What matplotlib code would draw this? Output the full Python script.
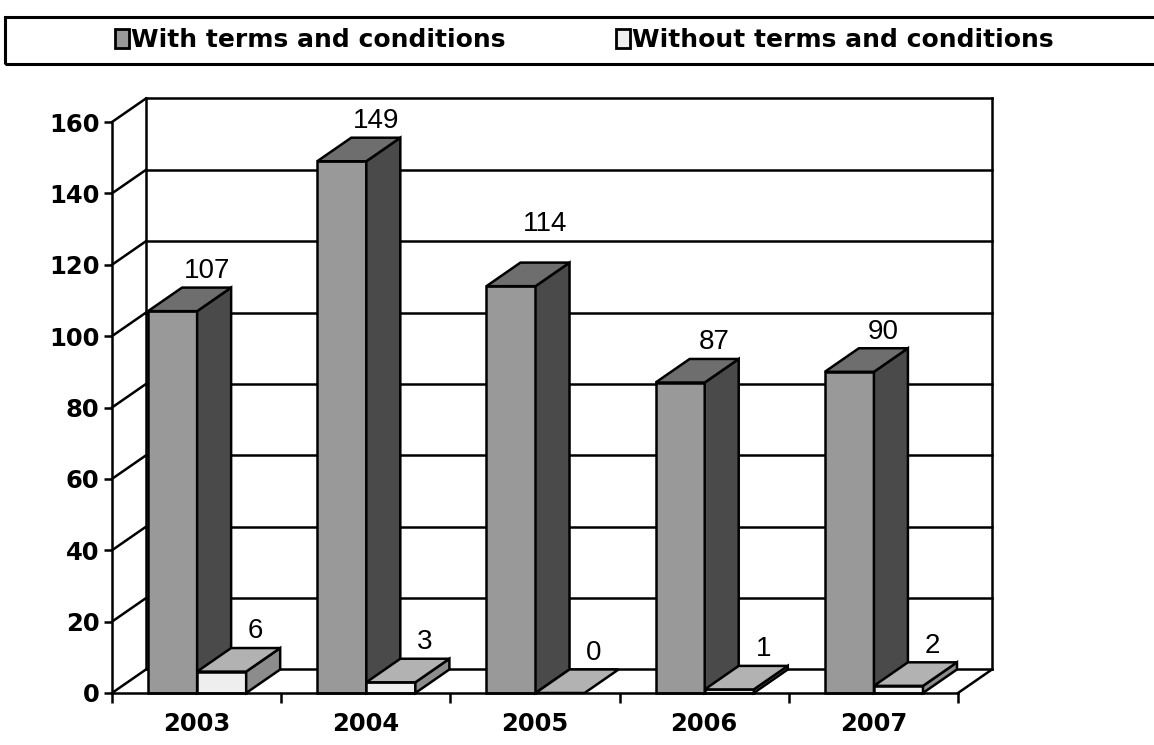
import matplotlib
matplotlib.use('Agg')
import matplotlib.pyplot as plt
from matplotlib.patches import Rectangle, Polygon, Patch

plt.rcParams['font.family'] = ['Liberation Sans', 'DejaVu Sans']

# Data
years = ['2003', '2004', '2005', '2006', '2007']
with_terms = [107, 149, 114, 87, 90]
without_terms = [6, 3, 0, 1, 2]
series_names = ['With terms and conditions', 'Without terms and conditions']

# Colours (front, top, side) for each series
col_with = ('#999999', '#6e6e6e', '#4a4a4a')
col_without = ('#eeeeee', '#b2b2b2', '#8c8c8c')

W, H = 1154, 745
DX = 0.201   # depth offset in category units
DY = 6.6     # depth offset in value units
BAR_W = 0.29
BAR_OFF = 0.213
LW = 1.8
bold_font = {'family': 'DejaVu Sans', 'weight': 'bold', 'size': 17.5}

fig = plt.figure(figsize=(W / 100, H / 100), dpi=100)
ax = fig.add_axes([112 / W, (H - 693) / H, (958 - 112) / W, (693 - 122) / H])
ax.set_xlim(0, 5)
ax.set_ylim(0, 160)


def bar3d(ax, x, h, cols):
    front, top, side = cols
    kw = dict(edgecolor='black', linewidth=LW, joinstyle='miter', clip_on=False, zorder=3)
    if h > 0:
        ax.add_patch(Rectangle((x, 0), BAR_W, h, facecolor=front, **kw))
        ax.add_patch(Polygon([(x + BAR_W, 0), (x + BAR_W + DX, DY),
                              (x + BAR_W + DX, h + DY), (x + BAR_W, h)],
                             closed=True, facecolor=side, **kw))
    ax.add_patch(Polygon([(x, h), (x + BAR_W, h), (x + BAR_W + DX, h + DY),
                          (x + DX, h + DY)], closed=True, facecolor=top, **kw))


# Back wall, side wall and floor
line_kw = dict(color='black', linewidth=LW, clip_on=False, zorder=1,
               solid_capstyle='projecting')
yticks = list(range(0, 161, 20))
for v in yticks:
    ax.plot([DX, 5 + DX], [v + DY, v + DY], **line_kw)
    ax.plot([0, DX], [v, v + DY], **line_kw)
ax.plot([DX, DX], [DY, 160 + DY], **line_kw)
ax.plot([5 + DX, 5 + DX], [DY, 160 + DY], **line_kw)
ax.plot([5, 5 + DX], [0, DY], **line_kw)

# Bars and value labels
label_nudge = {'2005': 16}
for i, yr in enumerate(years):
    for j, (vals, cols) in enumerate([(with_terms, col_with), (without_terms, col_without)]):
        x = i + BAR_OFF + j * BAR_W
        h = vals[i]
        bar3d(ax, x, h, cols)
        extra = label_nudge.get(yr, 0) if j == 0 else 0
        ax.annotate(str(h), (x + BAR_W / 2 + DX, h + DY), xytext=(0, 12 + extra),
                    textcoords='offset points', ha='center', va='center',
                    fontsize=20, annotation_clip=False, zorder=4)

# Axes styling
for s in ['top', 'right']:
    ax.spines[s].set_visible(False)
for s in ['left', 'bottom']:
    ax.spines[s].set_linewidth(LW)
    ax.spines[s].set_zorder(5)
ax.patch.set_visible(False)

ax.set_yticks(yticks)
ax.set_yticklabels([str(v) for v in yticks], fontdict=bold_font)
ax.tick_params(axis='y', length=6, width=LW, pad=3)
ax.set_xticks(range(6))
ax.set_xticklabels([])
ax.set_xticks([i + 0.5 for i in range(5)], minor=True)
ax.set_xticklabels(years, minor=True, fontdict=bold_font)
ax.tick_params(axis='x', which='major', length=7, width=LW)
ax.tick_params(axis='x', which='minor', length=0, pad=14)

# Legend with a frame running off the right edge
handles = [Patch(facecolor=col_with[0], edgecolor='black', linewidth=2),
           Patch(facecolor=col_without[0], edgecolor='black', linewidth=2)]
fig.legend(handles, series_names, ncol=2, loc='center left',
           bbox_to_anchor=(115 / W, 1 - 40 / H), frameon=False,
           prop={'family': 'DejaVu Sans', 'size': 18, 'weight': 'bold'},
           handlelength=0.55, handleheight=0.8, handletextpad=0.1,
           columnspacing=4.4, borderpad=0, borderaxespad=0)
fig.patches.append(Rectangle((5 / W, (H - 64) / H), 1.2, 47 / H, fill=False,
                             linewidth=2.2, edgecolor='black',
                             transform=fig.transFigure, figure=fig))

fig.savefig('out.png', dpi=100)
